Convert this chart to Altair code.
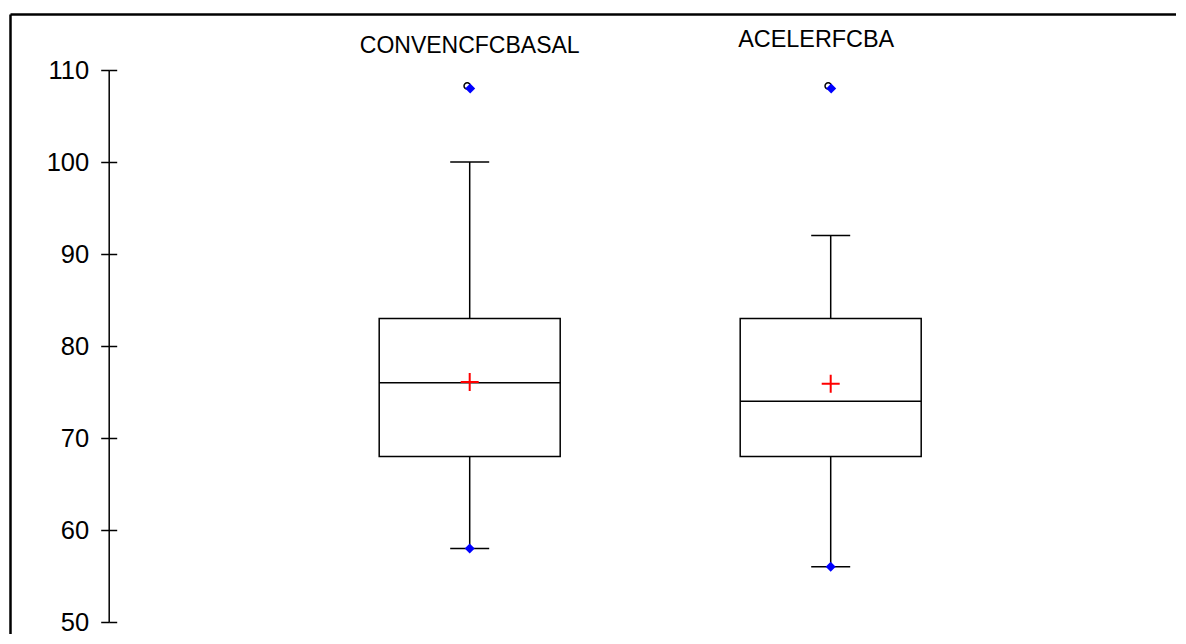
import altair as alt
import pandas as pd

# ---- data ----
categories = ["CONVENCFCBASAL", "ACELERFCBA"]
positions = [1, 2]
whisker_low = [58, 56]
q1 = [68, 68]
median = [76, 74]
q3 = [83, 83]
whisker_high = [100, 92]
means = [76.1, 75.9]
outlier_pos = [1, 2]
outlier_val = [108, 108]
y_ticks = [50, 60, 70, 80, 90, 100, 110]

df = pd.DataFrame({"cat": categories, "pos": positions, "lo": whisker_low, "q1": q1,
                   "med": median, "q3": q3, "hi": whisker_high, "mean": means})
out = pd.DataFrame({"pos": outlier_pos, "val": outlier_val})

FONT = "Liberation Sans"
W, H = 1166, 620
PX = 361.0           # pixels per category step
AX = 98.7            # axis line position inside view
xs = alt.Scale(domain=[-AX / PX, (W - AX) / PX], nice=False, zero=False)
ys = alt.Scale(domain=[50, 110], range=[608, 56], nice=False, zero=False)

BOX_HW = 0.2507
CAP_HW = 0.054

base = alt.Chart(df).transform_calculate(
    bx1=f"datum.pos - {BOX_HW}", bx2=f"datum.pos + {BOX_HW}",
    cx1=f"datum.pos - {CAP_HW}", cx2=f"datum.pos + {CAP_HW}")

X = lambda f: alt.X(f, scale=xs, axis=None)

left_axis = alt.Axis(orient="left", offset=-AX, values=y_ticks, tickSize=8, tickWidth=1.5,
                     tickColor="black", domainColor="black", domainWidth=1.5,
                     labelFont=FONT, labelFontSize=25.5, labelColor="black", labelPadding=12,
                     title=None, grid=False, labelOverlap=False, labelFlush=False)
right_axis = alt.Axis(orient="right", offset=-(W - AX), values=y_ticks, tickSize=8, tickWidth=1.5,
                      tickColor="black", domain=False, labels=False, title=None, grid=False)

# frame (top and left edges)
frame = alt.Chart(pd.DataFrame({"a": [0, 1]})).mark_point(opacity=0).encode(
    x=alt.X("a:Q", scale=alt.Scale(domain=[0, 1]),
            axis=alt.Axis(orient="top", offset=0, domainColor="black", domainWidth=2.5,
                          ticks=False, labels=False, title=None, grid=False)),
    y=alt.Y("a:Q", scale=alt.Scale(domain=[0, 1]),
            axis=alt.Axis(orient="left", offset=0, domainColor="black", domainWidth=2.5,
                          ticks=False, labels=False, title=None, grid=False)),
)

whisk = base.mark_rule(color="black", strokeWidth=1.5).encode(
    x=X("pos:Q"), y=alt.Y("lo:Q", scale=ys, axis=left_axis), y2="hi:Q")

box = base.mark_rect(fill="white", stroke="black", strokeWidth=1.5).encode(
    x=X("bx1:Q"), x2="bx2:Q", y=alt.Y("q1:Q", scale=ys, axis=right_axis), y2="q3:Q")

med = base.mark_rule(color="black", strokeWidth=1.5).encode(
    x=X("bx1:Q"), x2="bx2:Q", y=alt.Y("med:Q", scale=ys, axis=None))

cap_lo = base.mark_rule(color="black", strokeWidth=1.5).encode(
    x=X("cx1:Q"), x2="cx2:Q", y=alt.Y("lo:Q", scale=ys, axis=None))
cap_hi = base.mark_rule(color="black", strokeWidth=1.5).encode(
    x=X("cx1:Q"), x2="cx2:Q", y=alt.Y("hi:Q", scale=ys, axis=None))

min_pt = base.mark_point(shape="diamond", filled=True, color="#0000FF", size=100, opacity=1).encode(
    x=X("pos:Q"), y=alt.Y("lo:Q", scale=ys, axis=None))

out_circ = alt.Chart(out).mark_point(shape="circle", filled=False, color="black", size=40,
                                     strokeWidth=1.5, xOffset=-2.5, yOffset=-2.5, opacity=1).encode(
    x=X("pos:Q"), y=alt.Y("val:Q", scale=ys, axis=None))
out_dia = alt.Chart(out).mark_point(shape="diamond", filled=True, color="#0000FF", size=100,
                                    xOffset=0.5, opacity=1).encode(
    x=X("pos:Q"), y=alt.Y("val:Q", scale=ys, axis=None))

mean_pt = base.mark_point(shape="M-1,0H1M0,-1V1", filled=False, color="#FF0000", size=324,
                          strokeWidth=2, opacity=1).encode(
    x=X("pos:Q"), y=alt.Y("mean:Q", scale=ys, axis=None))

lab1 = base.transform_filter(alt.datum.pos == 1).mark_text(
    font=FONT, fontSize=23, color="black", align="center", baseline="alphabetic").encode(
    x=X("pos:Q"), y=alt.value(38.7), text="cat:N")
lab2 = base.transform_filter(alt.datum.pos == 2).mark_text(
    font=FONT, fontSize=23.4, color="black", align="center", baseline="alphabetic", dx=-14.5).encode(
    x=X("pos:Q"), y=alt.value(32.7), text="cat:N")

chart = alt.layer(
    frame, whisk, box, med, cap_lo, cap_hi, min_pt, out_circ, out_dia, mean_pt, lab1, lab2
).resolve_scale(x="independent", y="independent").resolve_axis(
    x="independent", y="independent"
).properties(
    width=W, height=H,
    padding={"left": 2, "top": 6, "right": 0, "bottom": 0},
    autosize=alt.AutoSizeParams(type="none"),
).configure_view(stroke=None).configure(background="white")

chart.save("out.html", embed_options={"renderer": "svg", "actions": False})
